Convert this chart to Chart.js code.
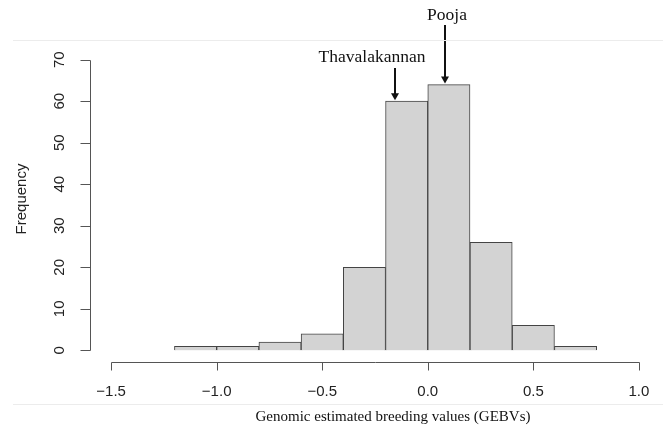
<!DOCTYPE html>
<html>
<head>
<meta charset="utf-8">
<script src="https://cdn.jsdelivr.net/npm/chart.js@4.4.0/dist/chart.umd.min.js"></script>
<style>
body{margin:0;background:#fff;}
#wrap{position:relative;width:663px;height:427px;}
.rule{position:absolute;left:13px;right:0;height:1px;background:#ececec;}
</style>
</head>
<body>
<div id="wrap">
<div class="rule" style="top:40px"></div>
<div class="rule" style="top:404px"></div>
<canvas id="c" width="663" height="427"></canvas>
</div>
<script>
// histogram bins (width 0.2) and counts
var binStart=[-1.2,-1.0,-0.8,-0.6,-0.4,-0.2,0.0,0.2,0.4,0.6];
var counts=[1,1,2,4,20,60,64,26,6,1];
var binWidth=0.2;
var xTicks=[-1.5,-1.0,-0.5,0.0,0.5,1.0];
var yTicks=[0,10,20,30,40,50,60,70];
var notes=[
    {label:'Pooja',x:0.08,y:64,textTop:true},
    {label:'Thavalakannan',x:-0.155,y:60,textTop:false}
];

var pts=[];
for(var i=0;i<binStart.length;i++){
    pts.push({x:binStart[i]+binWidth/2,y:counts[i]});
}

function fmt(v){
    var s=Number(v).toFixed(1);
    return s.replace('-','\u2212');
}

var sans='"Liberation Sans", Arial, sans-serif';
var serif='"Liberation Serif", "Times New Roman", serif';

// R style axes: lines only between first and last tick
var rAxes={
    id:'rAxes',
    afterDraw:function(chart){
        var ctx=chart.ctx;
        var xs=chart.scales.x, ys=chart.scales.y;
        ctx.save();
        ctx.strokeStyle='#555';
        ctx.lineWidth=1;
        var yb=chart.chartArea.bottom+0.5;
        var xl=chart.chartArea.left+0.5;
        ctx.beginPath();
        ctx.moveTo(Math.round(xs.getPixelForValue(xTicks[0]))+0.5,yb);
        ctx.lineTo(Math.round(xs.getPixelForValue(xTicks[xTicks.length-1]))+0.5,yb);
        xTicks.forEach(function(t){
            var px=Math.round(xs.getPixelForValue(t))+0.5;
            ctx.moveTo(px,yb);
            ctx.lineTo(px,yb+8);
        });
        ctx.moveTo(xl,Math.round(ys.getPixelForValue(yTicks[0]))+0.5);
        ctx.lineTo(xl,Math.round(ys.getPixelForValue(yTicks[yTicks.length-1]))+0.5);
        yTicks.forEach(function(t){
            var py=Math.round(ys.getPixelForValue(t))+0.5;
            ctx.moveTo(xl,py);
            ctx.lineTo(xl-10,py);
        });
        ctx.stroke();

        ctx.fillStyle='#222';
        ctx.font='15px '+sans;
        ctx.textAlign='center';
        ctx.textBaseline='middle';
        xTicks.forEach(function(t){
            ctx.fillText(fmt(t),xs.getPixelForValue(t),392);
        });
        yTicks.forEach(function(t){
            ctx.save();
            ctx.translate(60,ys.getPixelForValue(t));
            ctx.rotate(-Math.PI/2);
            ctx.fillText(String(t),0,0);
            ctx.restore();
        });
        ctx.save();
        ctx.translate(22,199);
        ctx.rotate(-Math.PI/2);
        ctx.fillText('Frequency',0,0);
        ctx.restore();

        // x title
        ctx.fillStyle='#111';
        ctx.font='15px '+serif;
        ctx.fillText('Genomic estimated breeding values (GEBVs)',393,417);

        // arrows
        ctx.strokeStyle='#111';
        ctx.fillStyle='#111';
        ctx.lineWidth=2;
        notes.forEach(function(n){
            var px=Math.round(xs.getPixelForValue(n.x));
            var tip=ys.getPixelForValue(n.y)-1;
            var top=n.textTop?25:68;
            ctx.beginPath();
            ctx.moveTo(px,top);
            ctx.lineTo(px,tip-6);
            ctx.stroke();
            ctx.beginPath();
            ctx.moveTo(px-4,tip-7);
            ctx.lineTo(px+4,tip-7);
            ctx.lineTo(px,tip);
            ctx.closePath();
            ctx.fill();
            ctx.font='17.5px '+serif;
            if(n.textTop){
                ctx.fillText(n.label,px+2,15);
            } else {
                ctx.fillText(n.label,px-23,57);
            }
        });
        ctx.restore();
    }
};

var ctx=document.getElementById('c').getContext('2d');
var chart=new Chart(ctx,{
    type:'bar',
    data:{
        datasets:[{
            data:pts,
            backgroundColor:'#d3d3d3',
            borderColor:'#444',
            borderWidth:1,
            barPercentage:1,
            categoryPercentage:1,
            grouped:false
        }]
    },
    options:{
        responsive:false,
        animation:false,
        layout:{padding:{top:48,right:3,left:0,bottom:0}},
        plugins:{legend:{display:false},tooltip:{enabled:false}},
        scales:{
            x:{
                type:'linear',
                min:-1.6,max:1.1,
                offset:false,
                afterFit:function(s){ s.height=65; },
                grid:{display:false},
                border:{display:false},
                ticks:{display:false}
            },
            y:{
                min:-2.8,max:72.8,
                afterFit:function(s){ s.width=90; },
                grid:{display:false},
                border:{display:false},
                ticks:{display:false}
            }
        }
    },
    plugins:[rAxes]
});
</script>
</body>
</html>
